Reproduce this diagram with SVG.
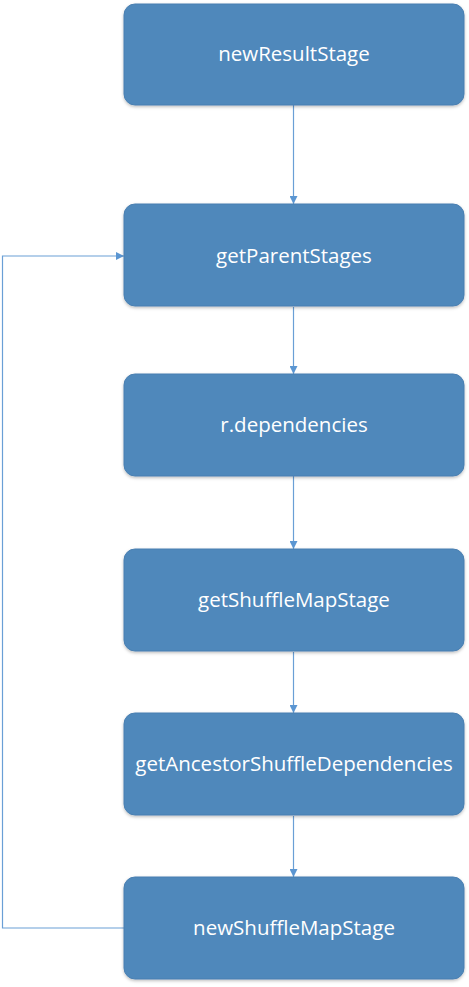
<svg xmlns="http://www.w3.org/2000/svg" width="469" height="987" viewBox="0 0 469 987">
<defs>
<style>
.box{fill:#4F88BB;stroke:#4A7FB1;stroke-width:1}
.lbl{font-family:"Open Sans","Liberation Sans",sans-serif;font-size:20.5px;fill:#FFFFFF;text-anchor:middle}
.conn{fill:none;stroke:#6A9FD6;stroke-width:1.2}
</style>
<marker id="arr" viewBox="0 0 10 10" refX="10" refY="5" markerWidth="8" markerHeight="8" markerUnits="userSpaceOnUse" orient="auto">
<path d="M0,0 L10,5 L0,10 z" fill="#5B96D2"/>
</marker>
<filter id="sh" x="-5%" y="-5%" width="110%" height="115%">
<feDropShadow dx="0" dy="1.5" stdDeviation="1.5" flood-color="#000" flood-opacity="0.25"/>
</filter>
</defs>
<rect width="469" height="987" fill="#FFFFFF"/>
<g id="connectors">
<line class="conn" x1="293.5" y1="105" x2="293.5" y2="204" marker-end="url(#arr)"/>
<line class="conn" x1="293.5" y1="307" x2="293.5" y2="374" marker-end="url(#arr)"/>
<line class="conn" x1="293.5" y1="476" x2="293.5" y2="549" marker-end="url(#arr)"/>
<line class="conn" x1="293.5" y1="652" x2="293.5" y2="713" marker-end="url(#arr)"/>
<line class="conn" x1="293.5" y1="816" x2="293.5" y2="877" marker-end="url(#arr)"/>
<polyline class="conn" points="124,928 2.5,928 2.5,256 124,256" marker-end="url(#arr)"/>
</g>
<g id="node1"><rect class="box" filter="url(#sh)" x="124" y="4" width="340" height="101" rx="11"/><text class="lbl" x="294" y="61">newResultStage</text></g>
<g id="node2"><rect class="box" filter="url(#sh)" x="124" y="204" width="340" height="102" rx="11"/><text class="lbl" x="294" y="263">getParentStages</text></g>
<g id="node3"><rect class="box" filter="url(#sh)" x="124" y="374" width="340" height="102" rx="11"/><text class="lbl" x="294" y="432">r.dependencies</text></g>
<g id="node4"><rect class="box" filter="url(#sh)" x="124" y="549" width="340" height="102" rx="11"/><text class="lbl" x="294" y="607">getShuffleMapStage</text></g>
<g id="node5"><rect class="box" filter="url(#sh)" x="124" y="713" width="340" height="102" rx="11"/><text class="lbl" x="294" y="771">getAncestorShuffleDependencies</text></g>
<g id="node6"><rect class="box" filter="url(#sh)" x="124" y="877" width="340" height="102" rx="11"/><text class="lbl" x="294" y="935">newShuffleMapStage</text></g>
</svg>
